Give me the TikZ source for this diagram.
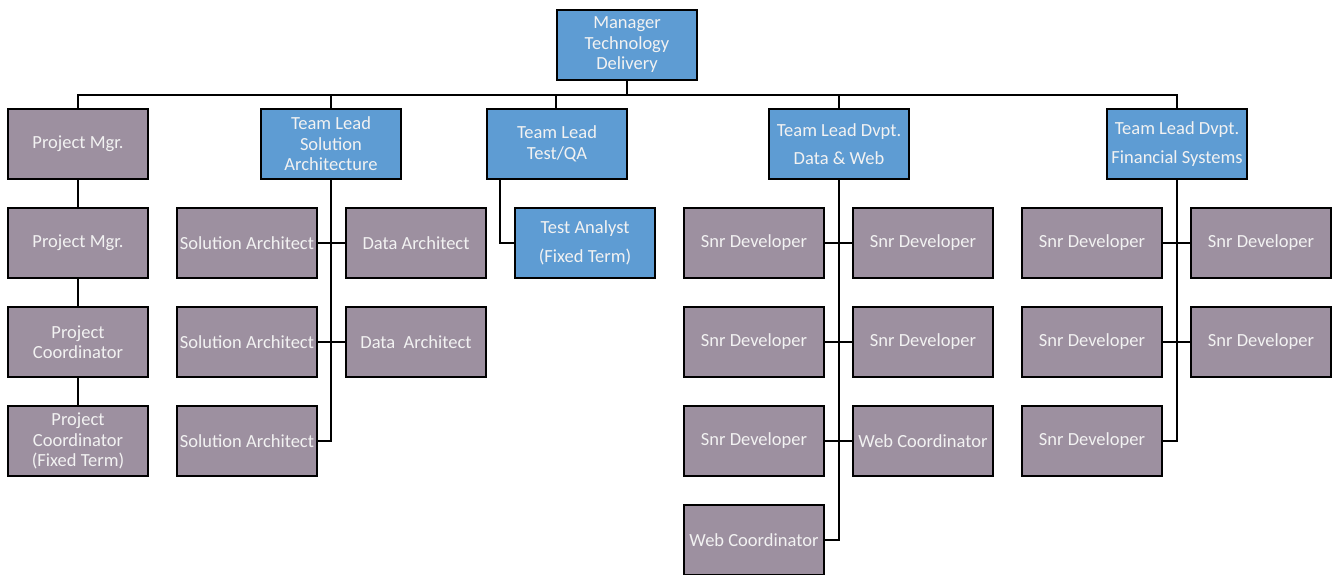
\documentclass[tikz,border=0pt]{standalone}
\usepackage{fontspec}
\setmainfont{Carlito}
\definecolor{leadblue}{RGB}{94,156,211}
\definecolor{staffgray}{RGB}{157,144,160}
\definecolor{boxtext}{RGB}{242,242,242}
\begin{document}
\begin{tikzpicture}[x=1pt,y=-1pt,
  box/.style={draw=black,line width=1.8pt,minimum width=140pt,minimum height=70pt,
    inner sep=1pt,align=center,text=boxtext,font=\fontsize{18.5}{20.5}\selectfont},
  lead/.style={box,fill=leadblue},
  staff/.style={box,fill=staffgray},
  link/.style={line width=1.8pt},
  branch/.style={line width=1.4pt}]
\useasboundingbox (0,0) rectangle (1341,575);

% manager
\node[lead] (mgr) at (627,45) {Manager\\Technology\\Delivery};

% team leads
\node[staff] (pm1) at (78,144) {Project Mgr.};
\node[lead] (tlsa) at (331,144) {Team Lead\\Solution\\Architecture};
\node[lead] (tlqa) at (557,144) {Team Lead\\Test/QA};
\node[lead] (tldw) at (839,144) {Team Lead Dvpt.\\[8pt]Data \& Web};
\node[lead] (tlfs) at (1177,144) {Team Lead Dvpt.\\[8pt]Financial Systems};

% project management column
\node[staff] (pm2) at (78,243) {Project Mgr.};
\node[staff] (pc1) at (78,342) {Project\\Coordinator};
\node[staff] (pc2) at (78,441) {Project\\Coordinator\\(Fixed Term)};

% solution architecture
\node[staff] (sa1) at (247,243) {Solution Architect};
\node[staff] (sa2) at (247,342) {Solution Architect};
\node[staff] (sa3) at (247,441) {Solution Architect};
\node[staff] (da1) at (416,243) {Data Architect};
\node[staff] (da2) at (416,342) {Data\ \ Architect};

% test
\node[lead] (ta) at (585,243) {Test Analyst\\[8pt](Fixed Term)};

% data & web
\node[staff] (dw1) at (754,243) {Snr Developer};
\node[staff] (dw2) at (754,342) {Snr Developer};
\node[staff] (dw3) at (754,441) {Snr Developer};
\node[staff] (dw4) at (754,540) {Web Coordinator};
\node[staff] (dw5) at (923,243) {Snr Developer};
\node[staff] (dw6) at (923,342) {Snr Developer};
\node[staff] (dw7) at (923,441) {Web Coordinator};

% financial systems
\node[staff] (fs1) at (1092,243) {Snr Developer};
\node[staff] (fs2) at (1092,342) {Snr Developer};
\node[staff] (fs3) at (1092,441) {Snr Developer};
\node[staff] (fs4) at (1261,243) {Snr Developer};
\node[staff] (fs5) at (1261,342) {Snr Developer};

% bus from manager to team leads
\coordinate (bus) at (627,95);
\draw[link] (mgr.south) -- (bus);
\draw[link] (pm1.north) |- (bus) -| (tlfs.north);
\draw[link] (tlsa.north) -- (tlsa.north |- bus);
\draw[link] (tldw.north) -- (tldw.north |- bus);
\draw[link] ([xshift=-1pt]tlqa.north) -- ([xshift=-1pt]tlqa.north |- bus);

% project management chain
\draw[link] (pm1.south) -- (pm2.north);
\draw[link] (pm2.south) -- (pc1.north);
\draw[link] (pc1.south) -- (pc2.north);

% solution architecture spine
\draw[link] (tlsa.south) |- (sa3.east);
\draw[branch] (sa1.east) -- (da1.west);
\draw[branch] (sa2.east) -- (da2.west);

% test spine
\draw[link] ([xshift=-57pt]tlqa.south) |- (ta.west);

% data & web spine
\draw[link] (tldw.south) |- (dw4.east);
\draw[branch] (dw1.east) -- (dw5.west);
\draw[branch] (dw2.east) -- (dw6.west);
\draw[branch] (dw3.east) -- (dw7.west);

% financial systems spine
\draw[link] (tlfs.south) |- (fs3.east);
\draw[branch] (fs1.east) -- (fs4.west);
\draw[branch] (fs2.east) -- (fs5.west);
\end{tikzpicture}
\end{document}
